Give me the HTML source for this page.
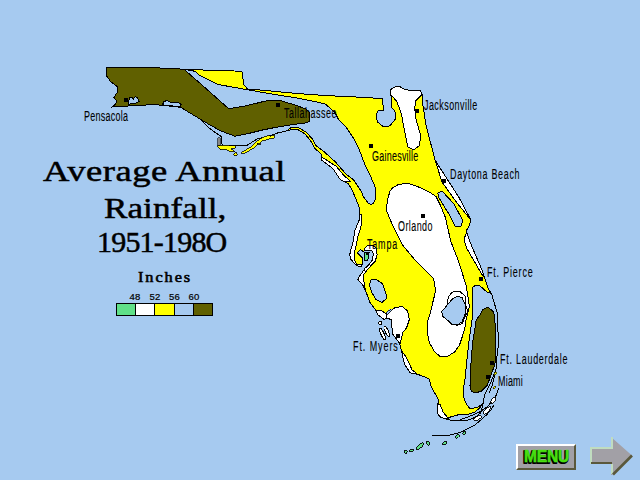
<!DOCTYPE html>
<html><head><meta charset="utf-8"><style>
html,body{margin:0;padding:0;}
body{width:640px;height:480px;overflow:hidden;background:#A6CAF0;position:relative;font-family:"Liberation Sans",sans-serif;}
.t{position:absolute;font-family:"Liberation Serif",serif;color:#000;white-space:nowrap;line-height:1;}
.l{position:absolute;font-family:"Liberation Sans",sans-serif;font-size:11px;color:#000;-webkit-text-stroke:0.1px #000;white-space:nowrap;line-height:1;transform-origin:0 0;}
.n{position:absolute;top:291.5px;font-family:"Liberation Sans",sans-serif;font-size:9.5px;letter-spacing:0.2px;line-height:1;-webkit-text-stroke:0.2px #000;transform:scaleX(1.0);transform-origin:0 0}
.d{position:absolute;width:4px;height:4px;background:#000;}
</style></head><body>
<svg width="640" height="480" viewBox="0 0 640 480" style="position:absolute;left:0;top:0" shape-rendering="crispEdges"><defs><clipPath id="st"><polygon points="107,67 134,67 175,68.6 184,69.4 241.9,71.25 243.75,84.4 247.5,89 260,90 300,93.75 325,95.5 370,97.7 382.5,99 383.5,110.5 378.3,110.2 376.25,114.4 377.3,121.7 383.5,126.9 389.8,125.8 395,119.6 396,113.3 394,110.2 391.9,108.1 391,96 390.3,93 390.8,89.4 395,86.8 400.2,86.8 404.4,89.4 409.6,90.4 420,90.4 422,93.5 423,106 426,125 435,160 438.75,166 445.8,177 459,197.5 469.4,217.2 471,220.8 468.9,226 466.3,231.5 467.5,234.3 469.4,240.5 472.5,248 476.25,256.75 479.5,264 482.7,271.9 484.2,276.25 486.4,283.5 488,288 491.9,295 497.5,313.75 498.4,345.6 497,356 496.5,364 496.25,368.75 491.25,381.25 487.5,388.75 484.5,395 483,403.75 481,412.5 475,417.5 466,420.6 450,420 441,417.5 437.5,413.75 437.5,406 438.75,400 431.25,387 429.4,379.4 426.25,377.5 418.75,374.7 410.3,372.8 404.7,364.4 401.9,353 399.4,343 392.3,333.75 391.6,319.7 385,317.5 375.6,310 370,302.5 365.3,290 362.6,284.6 357.9,279.8 358.5,277.8 361.7,273.3 365,268.3 369.2,264.2 372.5,260 373.3,253.3 371.7,250.8 365,250.8 362.9,251.25 360.4,249.6 357.5,252.9 362.9,258.3 362.5,264.2 360.8,266.7 356.7,265.8 354.2,263.3 350.8,259.2 349.7,254.8 351.3,248 352.5,245 355,230 359.2,220 360,216.7 359.4,208 356.6,200.6 351.9,189.4 348.1,183.75 340.6,180 333,168.75 321.9,160.3 321,153.75 314.4,148 310.6,140.6 305,134 297.5,129.4 290,130 277.5,133 266,137 257.5,138.75 247.5,145 222.5,145 222,143.75 221,136.25 218.75,135 210,128.75 200,119 187.5,111.5 181,107.5 175,106.5 162,105.5 156,104.5 128,106 112.5,107 117.2,102 114,97.5 118,91.25 117.2,86.5 111,82 106.25,75.6"/></clipPath></defs><g clip-path="url(#st)"><polygon points="107,67 134,67 175,68.6 184,69.4 241.9,71.25 243.75,84.4 247.5,89 260,90 300,93.75 325,95.5 370,97.7 382.5,99 383.5,110.5 378.3,110.2 376.25,114.4 377.3,121.7 383.5,126.9 389.8,125.8 395,119.6 396,113.3 394,110.2 391.9,108.1 391,96 390.3,93 390.8,89.4 395,86.8 400.2,86.8 404.4,89.4 409.6,90.4 420,90.4 422,93.5 423,106 426,125 435,160 438.75,166 445.8,177 459,197.5 469.4,217.2 471,220.8 468.9,226 466.3,231.5 467.5,234.3 469.4,240.5 472.5,248 476.25,256.75 479.5,264 482.7,271.9 484.2,276.25 486.4,283.5 488,288 491.9,295 497.5,313.75 498.4,345.6 497,356 496.5,364 496.25,368.75 491.25,381.25 487.5,388.75 484.5,395 483,403.75 481,412.5 475,417.5 466,420.6 450,420 441,417.5 437.5,413.75 437.5,406 438.75,400 431.25,387 429.4,379.4 426.25,377.5 418.75,374.7 410.3,372.8 404.7,364.4 401.9,353 399.4,343 392.3,333.75 391.6,319.7 385,317.5 375.6,310 370,302.5 365.3,290 362.6,284.6 357.9,279.8 358.5,277.8 361.7,273.3 365,268.3 369.2,264.2 372.5,260 373.3,253.3 371.7,250.8 365,250.8 362.9,251.25 360.4,249.6 357.5,252.9 362.9,258.3 362.5,264.2 360.8,266.7 356.7,265.8 354.2,263.3 350.8,259.2 349.7,254.8 351.3,248 352.5,245 355,230 359.2,220 360,216.7 359.4,208 356.6,200.6 351.9,189.4 348.1,183.75 340.6,180 333,168.75 321.9,160.3 321,153.75 314.4,148 310.6,140.6 305,134 297.5,129.4 290,130 277.5,133 266,137 257.5,138.75 247.5,145 222.5,145 222,143.75 221,136.25 218.75,135 210,128.75 200,119 187.5,111.5 181,107.5 175,106.5 162,105.5 156,104.5 128,106 112.5,107 117.2,102 114,97.5 118,91.25 117.2,86.5 111,82 106.25,75.6" fill="#FFFF00" stroke="none" stroke-width="1" /><polygon points="184,69.4 195,71.25 198.75,75 217.5,84.4 270,93.75 300,98.5 325,103.75 335,112.5 338.75,120 346.25,127.5 353.75,138.75 359.4,150 365,165 370,175 375,186.7 375.8,198.3 373.5,203 371.3,204.4 368.3,203.3 363.3,196.7 361.25,191.25 353.75,180 346.25,174.4 335,161.5 323.75,151.5 316,145.5 312,138.5 306,132 298,127.5 291,127.5 280,136 260,142 248,148 220,148 216,137 208,130 199,121 170,60" fill="#A6CAF0" stroke="#000" stroke-width="1" /><polygon points="107,67 134,67 175,68.6 184,69.4 200,83.2 228.75,108.75 247,105.6 265.6,101 279.4,100.3 295,105 306,109 309,112 309.5,121.5 305,123 290,125 275,127.5 262.5,130 247.5,133.75 235,136.25 221,131 210,125 200,119 187.5,111.5 181,107.5 175,106.5 162,105.5 156,104.5 128,106 112.5,107 117.2,102 114,97.5 118,91.25 117.2,86.5 111,82 106.25,75.6" fill="#606000" stroke="#000" stroke-width="1" /><polygon points="129.7,97.5 132,97.5 133.6,99 135,96.7 137.5,97.5 139,101.4 136,103 131,103 129,105.3 128,103" fill="#A6CAF0" stroke="#000" stroke-width="1" /><polygon points="164,101.4 167,100.6 170.3,102 178,102 181,104.5 179.7,107 173.4,106 165.6,105.3 162.5,104.5" fill="#A6CAF0" stroke="#000" stroke-width="1" /><polygon points="389,84 397.5,80 405,81 424,85 422,94.6 415.8,100.8 414.8,107 415.3,116.5 419,130 421,135.6 419,145.8 413.8,149.8 407.7,146.8 404.4,130 401.25,113.3 397,101.9 392.9,96.7 390.3,94.6 389,90" fill="#FFFFFF" stroke="#000" stroke-width="1" /><polygon points="434,157 480,150 480,219 469.4,218.3 456.25,201.9 442,182 437,166" fill="#FFFFFF" stroke="#000" stroke-width="1" /><polygon points="466.5,230 466.25,233 464.7,237.4 465,243 466.9,248.6 469.4,253 471.6,256.75 476.5,265 481,273 483.5,277 500,274 500,228" fill="#FFFFFF" stroke="#000" stroke-width="1" /><polygon points="397.5,185 403,183.8 410,184 420,187.5 430,192.5 436,196.5 440.3,205 445.3,217.2 450.8,241.25 458.4,261 466,285 469.4,306 466,320 465,327.5 462.2,336.9 459.4,345.3 454.7,351.9 447.2,356.6 440.6,357 434,351 429.4,342.5 427.5,334 428,320 430,313.75 435.6,291 433.75,279 415,260 402.5,245 392.5,225 386.25,210 387.5,200 390,191 393,187.5" fill="#FFFFFF" stroke="#000" stroke-width="1" /><polygon points="388.75,312.8 394.4,308 401.9,306.25 407.5,311 409.4,319.4 406.6,327.8 402.8,332.5 400,343.75 390,345 380,320" fill="#FFFFFF" stroke="#000" stroke-width="1" /><polygon points="398,348 401.9,351.25 406.6,357.8 412.2,370 416.9,373.75 420,380 400,380 395,355" fill="#FFFFFF" stroke="#000" stroke-width="1" /><polygon points="322.5,157.5 336.5,166.5 343,174.5 350.5,181.5 340.6,182 333,171 319,162" fill="#FFFFFF" stroke="#000" stroke-width="1" /><polygon points="364.2,248.75 367.5,245.8 373.3,245.8 376.7,248.3 377.1,255 375,261.7 370,266.7 365.8,271.7 363.3,275 364,281.9 365.3,290 350,290 357.9,279.8 366,262 365,252" fill="#FFFFFF" stroke="#000" stroke-width="1" /><polygon points="362,214 361.7,218.3 360.8,228.3 358.3,235 355.8,246.7 354.2,254.2 354.2,260 356.7,264.2 361.7,264.6 363,262.5 364,270 340,270 345,214" fill="#FFFFFF" stroke="#000" stroke-width="1" /><polygon points="437.7,193 442,191 454,204 462.8,220.5 460.6,227 455,226 450.8,217.2 438.75,197.5" fill="#A6CAF0" stroke="#000" stroke-width="1" /><polygon points="473,287 476,285 480,286 487,292 510,300 510,430 445,430 448.75,417.5 457.5,415 467.5,414.4 475,412 480,407.5 483.75,403 477.5,407.5 470,408.75 466.25,403.75 463.75,397.5 464,385 465,379.4 466.4,365 468.75,343.4 472,320" fill="#A6CAF0" stroke="#000" stroke-width="1" /><polygon points="437.5,405 440,404 443,412 448.5,418.5 441,419 435,412" fill="#FFFFFF" stroke="#000" stroke-width="1" /><polygon points="482.5,310 488,307 493.75,312 495.6,328.75 495.2,345 495.6,361 493.75,367.5 490,377.5 487.5,385 481.25,391.25 475,393 471.25,391.25 470,386.25 470.5,370 472.5,343.4 476.25,320 480.6,314" fill="#606000" stroke="#000" stroke-width="1" /><polygon points="448.1,297.2 451.9,292.5 455.6,291.1 460.3,291.6 465,296.25 465.9,305.6 467.8,311.25 465,316.9 462.2,323.4 457.5,325.3 451.9,324.4 448.1,320.6 442.5,316 441.6,311.25 445.3,307.5 447.7,305.6" fill="#FFFFFF" stroke="#000" stroke-width="1" /><polygon points="447,305 453,298.5 457.5,296.5 462,297.5 465,304 466,312 462,322 457,325 452,324 448,320.6 442.5,316 441.6,311.25 445.3,307.5" fill="#A6CAF0" stroke="#000" stroke-width="1" /><polygon points="370.6,280 376,279.4 382.5,283.75 386,293.75 386,299 382,302.5 376,299.4 372,293 369.5,285" fill="#A6CAF0" stroke="#000" stroke-width="1" /></g><polygon points="364.2,252 369.6,252 368.3,255 367.9,260.8 365,260.8" fill="#60E088" stroke="#000" stroke-width="1" /><polygon points="107,67 134,67 175,68.6 184,69.4 241.9,71.25 243.75,84.4 247.5,89 260,90 300,93.75 325,95.5 370,97.7 382.5,99 383.5,110.5 378.3,110.2 376.25,114.4 377.3,121.7 383.5,126.9 389.8,125.8 395,119.6 396,113.3 394,110.2 391.9,108.1 391,96 390.3,93 390.8,89.4 395,86.8 400.2,86.8 404.4,89.4 409.6,90.4 420,90.4 422,93.5 423,106 426,125 435,160 438.75,166 445.8,177 459,197.5 469.4,217.2 471,220.8 468.9,226 466.3,231.5 467.5,234.3 469.4,240.5 472.5,248 476.25,256.75 479.5,264 482.7,271.9 484.2,276.25 486.4,283.5 488,288 491.9,295 497.5,313.75 498.4,345.6 497,356 496.5,364 496.25,368.75 491.25,381.25 487.5,388.75 484.5,395 483,403.75 481,412.5 475,417.5 466,420.6 450,420 441,417.5 437.5,413.75 437.5,406 438.75,400 431.25,387 429.4,379.4 426.25,377.5 418.75,374.7 410.3,372.8 404.7,364.4 401.9,353 399.4,343 392.3,333.75 391.6,319.7 385,317.5 375.6,310 370,302.5 365.3,290 362.6,284.6 357.9,279.8 358.5,277.8 361.7,273.3 365,268.3 369.2,264.2 372.5,260 373.3,253.3 371.7,250.8 365,250.8 362.9,251.25 360.4,249.6 357.5,252.9 362.9,258.3 362.5,264.2 360.8,266.7 356.7,265.8 354.2,263.3 350.8,259.2 349.7,254.8 351.3,248 352.5,245 355,230 359.2,220 360,216.7 359.4,208 356.6,200.6 351.9,189.4 348.1,183.75 340.6,180 333,168.75 321.9,160.3 321,153.75 314.4,148 310.6,140.6 305,134 297.5,129.4 290,130 277.5,133 266,137 257.5,138.75 247.5,145 222.5,145 222,143.75 221,136.25 218.75,135 210,128.75 200,119 187.5,111.5 181,107.5 175,106.5 162,105.5 156,104.5 128,106 112.5,107 117.2,102 114,97.5 118,91.25 117.2,86.5 111,82 106.25,75.6" fill="none" stroke="#000" stroke-width="1" /><polyline points="432.5,435.6 448.75,435.4 460,432.5 475,425 486.25,415.2 491,410 494,405" fill="none" stroke="#000" stroke-width="1"/><polyline points="460,419.6 468.75,416.7 479,412.3 487.7,406.5 493.5,399 496.5,394.8 498.5,388" fill="none" stroke="#000" stroke-width="1"/><polyline points="489,393 492,386 494,378 496,371" fill="none" stroke="#000" stroke-width="1"/><ellipse cx="405.6" cy="451.9" rx="1.6" ry="1.4" fill="#60E088" stroke="#000" stroke-width="0.9" transform="rotate(0 405.6 451.9)"/><ellipse cx="411.6" cy="450.6" rx="2.1" ry="1.3" fill="#60E088" stroke="#000" stroke-width="0.9" transform="rotate(-10 411.6 450.6)"/><ellipse cx="420" cy="446.2" rx="4.6" ry="1.7" fill="#60E088" stroke="#000" stroke-width="0.9" transform="rotate(-40 420 446.2)"/><ellipse cx="428" cy="443.3" rx="1.5" ry="2.3" fill="#60E088" stroke="#000" stroke-width="0.9" transform="rotate(-20 428 443.3)"/><ellipse cx="444.7" cy="443.1" rx="2.4" ry="1.3" fill="#60E088" stroke="#000" stroke-width="0.9" transform="rotate(-40 444.7 443.1)"/><ellipse cx="457.5" cy="436.25" rx="2.4" ry="1.4" fill="#60E088" stroke="#000" stroke-width="0.9" transform="rotate(-35 457.5 436.25)"/><ellipse cx="464.4" cy="433.1" rx="1.8" ry="1.5" fill="#60E088" stroke="#000" stroke-width="0.9" transform="rotate(-40 464.4 433.1)"/><ellipse cx="477.5" cy="418.2" rx="4.5" ry="1.7" fill="#fff" stroke="#000" stroke-width="0.9" transform="rotate(-30 477.5 418.2)"/><ellipse cx="487" cy="410.4" rx="5" ry="1.7" fill="#fff" stroke="#000" stroke-width="0.9" transform="rotate(-45 487 410.4)"/><ellipse cx="493.5" cy="400.2" rx="3.5" ry="1.7" fill="#fff" stroke="#000" stroke-width="0.9" transform="rotate(-55 493.5 400.2)"/><ellipse cx="494.5" cy="387.5" rx="1.6" ry="0.9" fill="#ff0" stroke="#000" stroke-width="0.6" transform="rotate(-50 494.5 387.5)"/><ellipse cx="495.5" cy="373.5" rx="1.8" ry="1" fill="#ff0" stroke="#000" stroke-width="0.6" transform="rotate(-60 495.5 373.5)"/><polygon points="375.6,310 381,310.5 386,313.5 387,318 384,319.4 378,315" fill="#fff" stroke="#000" stroke-width="1"/><polygon points="385.5,312.5 390.5,308.5 392,310 387.5,314.5" fill="#A6CAF0" stroke="#000" stroke-width="0.8"/><ellipse cx="380.3" cy="323" rx="1.5" ry="2" fill="#fff" stroke="#000" stroke-width="1"/><ellipse cx="382.5" cy="334" rx="1.6" ry="6.5" fill="#fff" stroke="#000" stroke-width="1" transform="rotate(-25 382.5 334)"/><ellipse cx="386.8" cy="331.5" rx="1.6" ry="5.5" fill="#fff" stroke="#000" stroke-width="1" transform="rotate(-25 386.8 331.5)"/><polygon points="218,145 235,145.75 235.5,147.8 231,148.75 234.5,151.5 231,152 226,149.5 220,149.5 217.5,147" fill="#FFFF00" stroke="#000" stroke-width="0.8"/><polygon points="242,152 250,147.5 256,142 262.5,137.3 267.5,135.6 270,136.5 275,134.8 274,138 268,139.3 262.5,140.8 258.75,143.8 253.75,148.2 245,153 241.5,153.6" fill="#FFFF00" stroke="#000" stroke-width="0.8"/><polygon points="257,143 260,143 260,144.5 257,144.5" fill="#FFFF00" stroke="#000" stroke-width="0.8"/><circle cx="235.5" cy="154.4" r="1.6" fill="#FFFF00" stroke="#000" stroke-width="0.8"/><polygon points="217.5,137.5 220,137.5 220,145 217.5,145" fill="#888" stroke="#000" stroke-width="0.6"/></svg>
<div class="t" style="left:43px;top:156px;font-size:30px;letter-spacing:0.4px;transform:scaleX(1.22);transform-origin:0 0;-webkit-text-stroke:0.5px #000">Average Annual</div>
<div class="t" style="left:103.5px;top:193px;font-size:30px;letter-spacing:0.05px;transform:scaleX(1.17);transform-origin:0 0;-webkit-text-stroke:0.5px #000">Rainfall,</div>
<div class="t" style="left:97px;top:227px;font-size:30px;letter-spacing:-0.8px;transform:scaleX(1.0);transform-origin:0 0;-webkit-text-stroke:0.5px #000">1951-198O</div>
<div class="t" id="inch" style="left:138px;top:271px;font-size:13.6px;font-weight:normal;letter-spacing:1.6px;transform:scaleX(1.2);transform-origin:0 0;-webkit-text-stroke:0.55px #000">Inches</div>
<div class="l" style="left:84.00px;top:108.70px;font-size:14.0px;letter-spacing:0.40px;transform:scaleX(0.640)">Pensacola</div>
<div class="l" style="left:283.55px;top:106.10px;font-size:14.0px;letter-spacing:0.80px;transform:scaleX(0.640)">Tallahassee</div>
<div class="l" style="left:424.40px;top:98.30px;font-size:14.0px;letter-spacing:0.71px;transform:scaleX(0.640)">Jacksonville</div>
<div class="l" style="left:372.03px;top:148.69px;font-size:14.0px;letter-spacing:0.39px;transform:scaleX(0.640)">Gainesville</div>
<div class="l" style="left:449.68px;top:166.85px;font-size:14.0px;letter-spacing:1.08px;transform:scaleX(0.640)">Daytona Beach</div>
<div class="l" style="left:398.26px;top:219.09px;font-size:14.0px;letter-spacing:0.69px;transform:scaleX(0.640)">Orlando</div>
<div class="l" style="left:366.70px;top:236.85px;font-size:14.0px;letter-spacing:1.28px;transform:scaleX(0.640)">Tampa</div>
<div class="l" style="left:486.64px;top:265.00px;font-size:14.0px;letter-spacing:1.27px;transform:scaleX(0.640)">Ft. Pierce</div>
<div class="l" style="left:352.64px;top:338.70px;font-size:14.0px;letter-spacing:1.46px;transform:scaleX(0.640)">Ft. Myers</div>
<div class="l" style="left:499.76px;top:351.85px;font-size:14.0px;letter-spacing:1.17px;transform:scaleX(0.640)">Ft. Lauderdale</div>
<div class="l" style="left:498.01px;top:373.70px;font-size:14.0px;letter-spacing:0.34px;transform:scaleX(0.640)">Miami</div>
<div class="n" style="left:129.5px;">48</div>
<div class="n" style="left:149.5px;">52</div>
<div class="n" style="left:169px;">56</div>
<div class="n" style="left:188.5px;">60</div>
<div style="position:absolute;left:116px;top:303px;width:97px;height:13px;box-sizing:border-box;border:1px solid #000;background:#000">
<div style="position:absolute;left:0;top:0;width:18px;height:11px;background:#60E088"></div>
<div style="position:absolute;left:19px;top:0;width:18px;height:11px;background:#fff"></div>
<div style="position:absolute;left:38px;top:0;width:19px;height:11px;background:#ff0"></div>
<div style="position:absolute;left:58px;top:0;width:18px;height:11px;background:#A6CAF0"></div>
<div style="position:absolute;left:77px;top:0;width:18px;height:11px;background:#606000"></div></div>
<div class="d" style="left:124px;top:98px"></div>
<div class="d" style="left:276px;top:103px"></div>
<div class="d" style="left:415px;top:109px"></div>
<div class="d" style="left:369px;top:144px"></div>
<div class="d" style="left:442px;top:179px"></div>
<div class="d" style="left:421px;top:214px"></div>
<div class="d" style="left:365.5px;top:253.3px;width:2.6px;height:2.2px"></div>
<div class="d" style="left:479px;top:277px"></div>
<div class="d" style="left:396px;top:334px"></div>
<div class="d" style="left:490px;top:361px"></div>
<div class="d" style="left:486px;top:375px"></div>
<div style="position:absolute;left:516px;top:444px;width:56px;height:22px;background:#A2A0A6;border-top:2px solid #fff;border-left:2px solid #fff;border-right:2px solid #5A583C;border-bottom:2px solid #5A583C;"></div>
<svg width="640" height="480" style="position:absolute;left:0;top:0">
<text x="523.2" y="462.6" font-family="Liberation Sans" font-weight="bold" font-size="16" letter-spacing="-0.2" textLength="45" lengthAdjust="spacingAndGlyphs" fill="#000" stroke="#000" stroke-width="2.2" stroke-linejoin="round">MENU</text>
<text x="524" y="461.8" font-family="Liberation Sans" font-weight="bold" font-size="16" letter-spacing="-0.2" textLength="45" lengthAdjust="spacingAndGlyphs" fill="#48E010" stroke="#48E010" stroke-width="0.6">MENU</text>
</svg>
<svg width="640" height="480" style="position:absolute;left:0;top:0">
<polygon points="590,447 611,447 611,437 632,455.5 612,475 611,475 611,464 590,464" fill="#A2A0A6"/>
<polyline points="591,464 591,448 612,448 612,437" fill="none" stroke="#C0DCC0" stroke-width="2"/>
<line x1="612" y1="464" x2="612" y2="474" stroke="#C0DCC0" stroke-width="2"/>
<line x1="591" y1="463" x2="612" y2="463" stroke="#5A583C" stroke-width="2"/>
<line x1="632" y1="455.5" x2="613" y2="474.5" stroke="#5A583C" stroke-width="2.6"/>
</svg>
</body></html>
